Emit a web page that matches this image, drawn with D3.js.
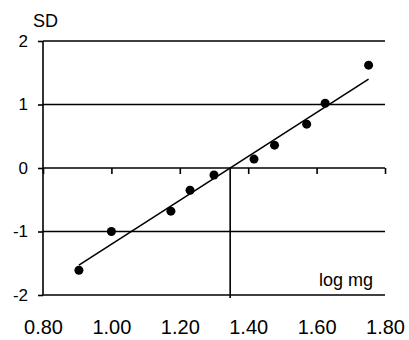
<!DOCTYPE html>
<html><head><meta charset="utf-8">
<script src="https://cdn.jsdelivr.net/npm/d3@7"></script>
<style>
body{margin:0;background:#fff;}
text{font-family:"Liberation Sans",Arial,sans-serif;fill:#000;}
</style></head>
<body><svg id="c" width="409" height="340"></svg>
<script>
const xValues = [0.905, 1.0, 1.174, 1.23, 1.30, 1.417, 1.477, 1.571, 1.625, 1.752];
const yValues = [-1.61, -1.0, -0.68, -0.35, -0.11, 0.14, 0.36, 0.69, 1.02, 1.62];
const trendX = [0.905, 1.752];
const trendY = [-1.53, 1.40];
const xTicks = [0.8, 1.0, 1.2, 1.4, 1.6, 1.8];
const yTicks = [-2, -1, 0, 1, 2];
const yTitle = "SD";
const xTitle = "log mg";

const svg = d3.select("#c");
const x = d3.scaleLinear().domain([0.8, 1.8]).range([43, 385]);
const y = d3.scaleLinear().domain([-2, 2]).range([295, 41]);
const sw = 1.6;

// gridlines
svg.append("g").selectAll("line").data(yTicks.filter(d => d !== 0)).join("line")
  .attr("x1", x(0.8)).attr("x2", x(1.8))
  .attr("y1", d => y(d)).attr("y2", d => y(d))
  .attr("stroke", "#000").attr("stroke-width", sw);

// y axis
const yAxis = svg.append("g").attr("transform", `translate(${x(0.8)},0)`)
  .call(d3.axisLeft(y).tickValues(yTicks).tickSize(5).tickPadding(10).tickFormat(d => String(d)));
yAxis.select(".domain").attr("stroke", "#000").attr("stroke-width", sw).attr("d", `M0,${y(2)}V${y(-2)}`);
yAxis.selectAll(".tick line").attr("stroke", "#000").attr("stroke-width", sw);
yAxis.selectAll(".tick text").style("font-size", "17px").attr("font-family", null);

// x axis at y=0
const xAxis = svg.append("g").attr("transform", `translate(0,${y(0)})`)
  .call(d3.axisBottom(x).tickValues(xTicks).tickSize(6).tickFormat(""));
xAxis.select(".domain").attr("stroke", "#000").attr("stroke-width", sw).attr("d", `M${x(0.8)},0H${x(1.8)}`);
xAxis.selectAll(".tick line").attr("stroke", "#000").attr("stroke-width", sw);

// x tick labels at bottom
const xLab = svg.append("g").attr("transform", `translate(0,${y(-2)})`)
  .call(d3.axisBottom(x).tickValues(xTicks).tickSize(0).tickPadding(25).tickFormat(d3.format(".2f")));
xLab.select(".domain").remove();
xLab.selectAll(".tick text").style("font-size", "20px").attr("font-family", null);

// drop line at x-intercept of trend
const slope = (trendY[1] - trendY[0]) / (trendX[1] - trendX[0]);
const xi = trendX[0] - trendY[0] / slope;
svg.append("line").attr("x1", x(xi)).attr("x2", x(xi))
  .attr("y1", y(0)).attr("y2", y(-2) + 3)
  .attr("stroke", "#000").attr("stroke-width", sw);

// trend line
svg.append("line")
  .attr("x1", x(trendX[0])).attr("y1", y(trendY[0]))
  .attr("x2", x(trendX[1])).attr("y2", y(trendY[1]))
  .attr("stroke", "#000").attr("stroke-width", sw);

// points
svg.append("g").selectAll("circle").data(xValues.map((d, i) => [d, yValues[i]])).join("circle")
  .attr("cx", d => x(d[0])).attr("cy", d => y(d[1])).attr("r", 4.5).attr("fill", "#000");

// titles
svg.append("text").attr("x", 33).attr("y", 27).style("font-size", "18px").text(yTitle);
svg.append("text").attr("x", 373).attr("y", 286).attr("text-anchor", "end").style("font-size", "18px").text(xTitle);
</script></body></html>
